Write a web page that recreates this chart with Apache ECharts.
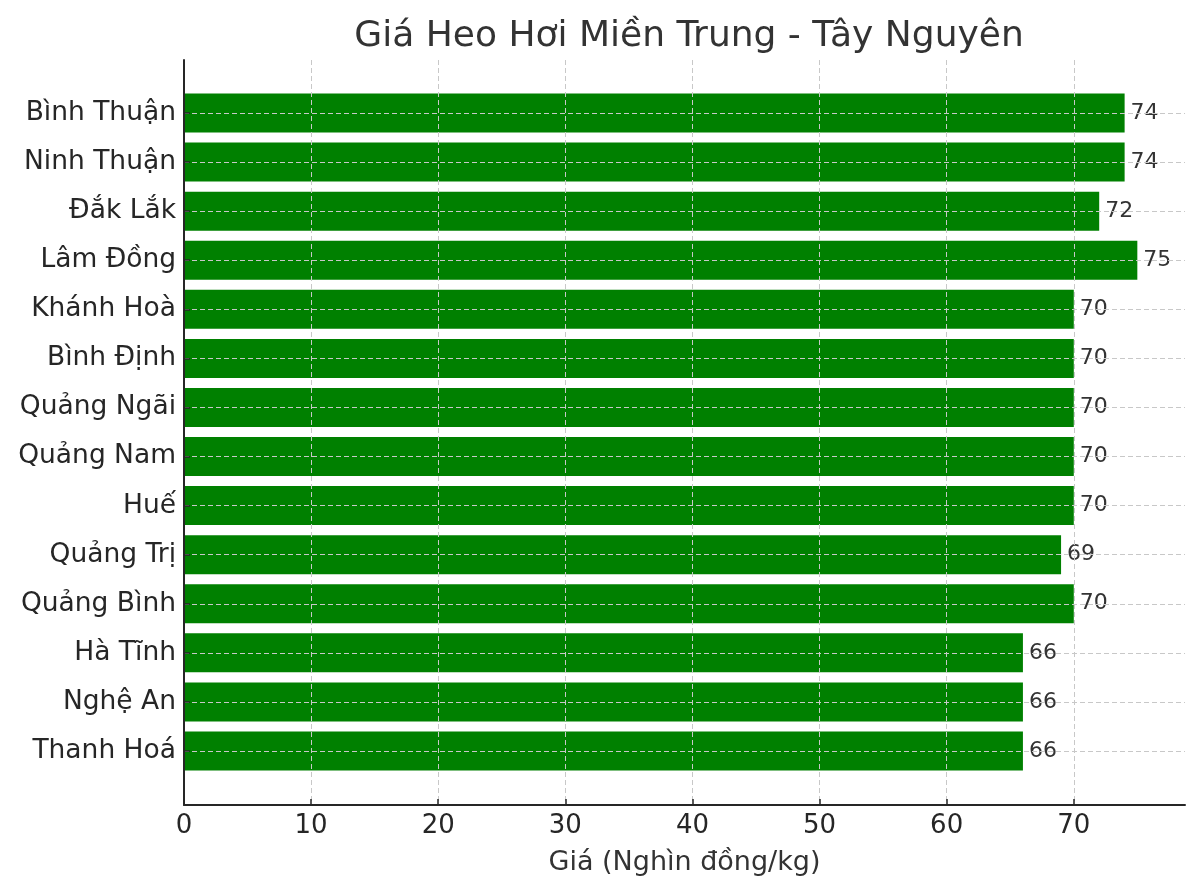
<!DOCTYPE html>
<html>
<head>
<meta charset="utf-8">
<script src="https://cdn.jsdelivr.net/npm/echarts@6/dist/echarts.min.js"></script>
<style>
  html, body { margin: 0; padding: 0; background: #fff; }
  #chart { width: 1200px; height: 894px; }
</style>
</head>
<body>
<div id="chart"></div>
<script>
const provinces = [
  "Bình Thuận", "Ninh Thuận", "Đắk Lắk", "Lâm Đồng", "Khánh Hoà",
  "Bình Định", "Quảng Ngãi", "Quảng Nam", "Huế", "Quảng Trị",
  "Quảng Bình", "Hà Tĩnh", "Nghệ An", "Thanh Hoá"
];
const prices = [74, 74, 72, 75, 70, 70, 70, 70, 70, 69, 70, 66, 66, 66];
const xTicks = [0, 10, 20, 30, 40, 50, 60, 70];

const font = "DejaVu Sans";
const xMax = 78.75;
const gridLine = { show: true, lineStyle: { color: "#c8c8c8", type: [5, 3], width: 1 } };

const chart = echarts.init(document.getElementById("chart"));

chart.setOption({
  animation: false,
  textStyle: { fontFamily: font },
  title: {
    text: "Giá Heo Hơi Miền Trung - Tây Nguyên",
    left: 684, top: 14,
    textAlign: "center",
    textStyle: { fontSize: 36, fontWeight: "normal", color: "#333", fontFamily: font }
  },
  grid: [
    // frame: spines, x ticks and vertical grid lines
    { left: 184, right: 15, top: 60, bottom: 89 },
    // bars
    { left: 184, right: 15, top: 113, height: 638 }
  ],
  xAxis: [
    {
      gridIndex: 0, type: "value", min: 0, max: xMax, interval: 10,
      z: 5,
      axisLine: { show: true, lineStyle: { color: "#262626", width: 2 } },
      axisTick: { show: true, inside: true, length: 6, customValues: xTicks, lineStyle: { color: "#262626", width: 1.5 } },
      axisLabel: { customValues: xTicks, fontSize: 26, color: "#262626", margin: 8, fontFamily: font },
      splitLine: gridLine,
      name: "Giá (Nghìn đồng/kg)",
      nameLocation: "middle", nameGap: 44,
      nameTextStyle: { fontSize: 27, color: "#333", fontFamily: font }
    },
    {
      gridIndex: 1, type: "value", min: 0, max: xMax, show: false
    }
  ],
  yAxis: [
    {
      gridIndex: 0, type: "value", min: 0, max: 1,
      z: 5,
      axisLine: { show: true, lineStyle: { color: "#262626", width: 2 } },
      axisTick: { show: false },
      axisLabel: { show: false },
      splitLine: { show: false }
    },
    {
      gridIndex: 1, type: "category", data: provinces, inverse: true,
      boundaryGap: false,
      z: 5,
      axisLine: { show: false },
      axisTick: { show: true, inside: true, length: 6, lineStyle: { color: "#262626", width: 1.5 } },
      axisLabel: { fontSize: 26.5, color: "#262626", margin: 8, fontFamily: font },
      splitLine: gridLine
    }
  ],
  series: [
    {
      type: "bar",
      xAxisIndex: 1, yAxisIndex: 1,
      data: prices,
      barWidth: 39,
      itemStyle: { color: "#008000" },
      label: {
        show: true, position: "right", distance: 6,
        fontSize: 22, color: "#333", fontFamily: font
      }
    }
  ]
});
</script>
</body>
</html>
